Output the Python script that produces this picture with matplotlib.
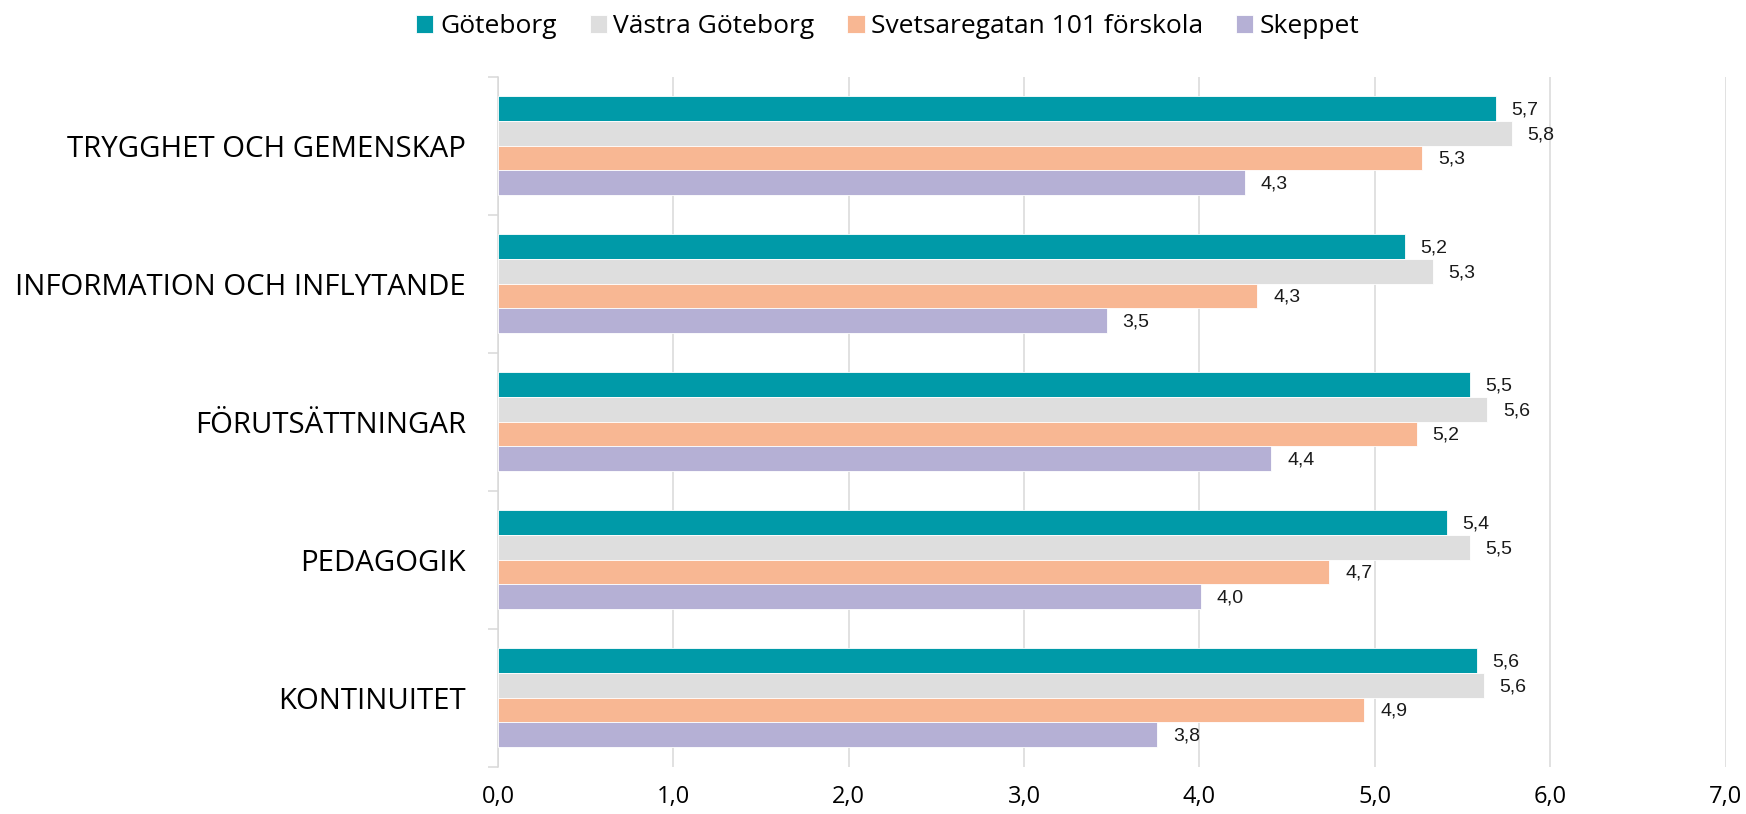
import numpy as np
import matplotlib.pyplot as plt
from matplotlib.ticker import FixedLocator

# Data
categories = [
    "TRYGGHET OCH GEMENSKAP",
    "INFORMATION OCH INFLYTANDE",
    "FÖRUTSÄTTNINGAR",
    "PEDAGOGIK",
    "KONTINUITET",
]
series_names = ["Göteborg", "Västra Göteborg", "Svetsaregatan 101 förskola", "Skeppet"]
goteborg = [5.69, 5.17, 5.54, 5.41, 5.58]
vastra_goteborg = [5.78, 5.33, 5.64, 5.54, 5.62]
svetsaregatan = [5.27, 4.33, 5.24, 4.74, 4.94]
skeppet = [4.26, 3.47, 4.41, 4.01, 3.76]
xticks = [0, 1, 2, 3, 4, 5, 6, 7]

colors = ["#009AA8", "#DEDEDE", "#F8B793", "#B5B0D5"]
series = [goteborg, vastra_goteborg, svetsaregatan, skeppet]

fig = plt.figure(figsize=(17.46, 8.14), dpi=100)
ax = fig.add_axes([0.2852, 0.0581, 0.7031, 0.8477])

y = np.arange(len(categories))
h = 0.179
handles = []
for i, (vals, col, name) in enumerate(zip(series, colors, series_names)):
    pos = y + (i - 1.5) * h
    bars = ax.barh(pos, vals, height=h, color=col, edgecolor="white",
                   linewidth=0.6, label=name, zorder=3)
    handles.append(bars)
    for p, v in zip(pos, vals):
        ax.text(v + 0.09, p + 0.01, f"{v:.1f}".replace(".", ","),
                va="center", ha="left", fontsize=14,
                family="Liberation Sans", color="#1a1a1a", zorder=4)

ax.set_xlim(0, 7)
ax.set_ylim(len(categories) - 0.5, -0.5)

ax.set_xticks(xticks)
ax.set_xticklabels([f"{t:.1f}".replace(".", ",") for t in xticks],
                   fontsize=17, family="Open Sans")
ax.tick_params(axis="x", length=0, pad=13)
ax.grid(axis="x", color="#D9D9D9", linewidth=1.1, zorder=0)

ax.set_yticks(y)
ax.set_yticklabels(categories, fontsize=21.2, family="Open Sans")
ax.tick_params(axis="y", which="major", length=0, pad=23)
ax.yaxis.set_minor_locator(FixedLocator(np.arange(-0.5, len(categories), 1.0)))
ax.tick_params(axis="y", which="minor", length=7, color="#D9D9D9", width=1.1)

for s in ["top", "right", "bottom"]:
    ax.spines[s].set_visible(False)
ax.spines["left"].set_color("#D9D9D9")
ax.spines["left"].set_linewidth(1.1)

fig.legend(handles=handles, labels=series_names, loc="upper center",
           bbox_to_anchor=(0.5086, 1.012), ncol=4, frameon=False,
           prop={"family": "Open Sans", "size": 19},
           handlelength=0.65, handleheight=0.65, handletextpad=0.25,
           columnspacing=1.25)

fig.savefig("out.png", dpi=100)
